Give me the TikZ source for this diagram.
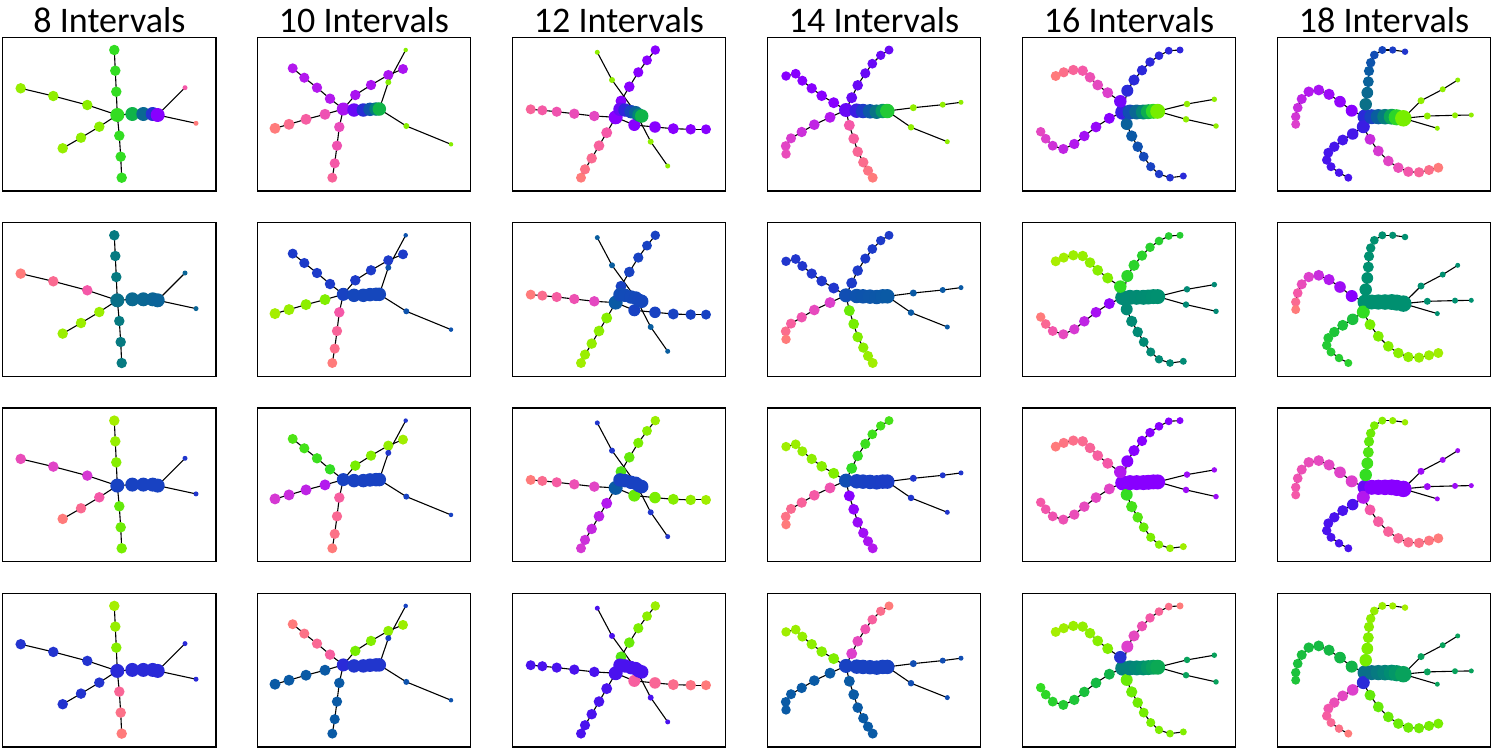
\documentclass[tikz,border=0pt]{standalone}
\usepackage{fontspec}
\setmainfont{Carlito}
\definecolor{P0}{HTML}{AAEE00}
\definecolor{P1}{HTML}{77EE00}
\definecolor{P2}{HTML}{33DD22}
\definecolor{P3}{HTML}{10B448}
\definecolor{P4}{HTML}{009070}
\definecolor{P5}{HTML}{0A7088}
\definecolor{P6}{HTML}{0A5AA5}
\definecolor{P7}{HTML}{1842C2}
\definecolor{P8}{HTML}{2A2AD8}
\definecolor{P9}{HTML}{4A12EE}
\definecolor{P10}{HTML}{8800FF}
\definecolor{P11}{HTML}{B318EE}
\definecolor{P12}{HTML}{DD40CC}
\definecolor{P13}{HTML}{F558A8}
\definecolor{P14}{HTML}{FF7B7B}
\tikzset{
  gdot/.style={circle,inner sep=0pt,outer sep=0pt,draw=none},
  link/.style={draw=black,line width=1.1pt},
  pframe/.style={draw=black,line width=1.3pt},
  ttl/.style={font=\fontsize{36}{40}\selectfont,anchor=base,inner sep=0pt}
}
\newif\ifnodepass
\newcommand\setcol[1]{%
  \pgfmathtruncatemacro\rsCi{min(floor(#1),13)}%
  \pgfmathtruncatemacro\rsCj{\rsCi+1}%
  \pgfmathtruncatemacro\rsCf{round(100*(1-(#1-\rsCi)))}%
  \colorlet{cur}{P\rsCi!\rsCf!P\rsCj}}
\newcommand\cnode[5]{%
  \ifnodepass\setcol{#2}\node[gdot,fill=cur,minimum size=#3pt] (#1) at (#4,#5) {};%
  \else\coordinate (#1) at (#4,#5);\fi}
\newcommand\branch[7]{%
  \foreach \rsP [count=\rsK] in #7 {\xdef\rsN{\rsK}}%
  \foreach \rsX/\rsY [count=\rsK] in #7 {%
    \ifnodepass
      \pgfmathsetmacro\rsFr{(\rsK-1)/max(\rsN-1,1)}%
      \pgfmathsetmacro\rsT{#3+(#4-#3)*\rsFr}%
      \pgfmathsetmacro\rsD{#5+(#6-#5)*\rsFr}%
      \setcol{\rsT}%
      \node[gdot,fill=cur,minimum size=\rsD pt] (#1-\rsK) at (\rsX,\rsY) {};%
    \else
      \coordinate (#1-\rsK) at (\rsX,\rsY);%
      \pgfmathtruncatemacro\rsKp{\rsK-1}%
      \ifnum\rsKp=0 \def\rsPrev{#2}\else\edef\rsPrev{#1-\rsKp}\fi
      \draw[link] (\rsPrev) -- (#1-\rsK);%
    \fi
  }}
\newcommand\twopass[1]{\nodepassfalse #1\nodepasstrue #1}
% column 1
\def\ZaU{116.3/91.7,115.3/70.7,114.3/50}
\def\ZaD{119.3/135.7,120.7/156.7,121.7/177.7}
\def\ZaL{87.3/105,53.3/96,20.7/88.3}
\def\ZaM{99.3/126.7,81/137.7,62.7/148.3}
\def\ZaS{132.3/114,143.3/114,152.7/114,157.7/115}
\def\ZaR{185/87.7}
\def\ZaQ{196/123.3}
% column 2
\def\ZbA{330/98.7,317/87.7,304.3/77.7,292.7/68.3}
\def\ZbB{355.3/95,371/85,388.3/75,403/69}
\def\ZbL{325/114.3,306/119.3,289/124.3,275/128.3}
\def\ZbD{339.3/127,337/145.7,334.7/163.3,332.3/177.7}
\def\ZbS{354/110,363.3/110,370/109.3,376/109,379.3/109}
\def\ZbG{388.3/82.3,405.7/50}
\def\ZbH{406.3/126,451/144.3}
% column 3
\def\ZcS{620/109.3,625/110,631/111.7,635.7/112.7,639/115,641.7/116}
\def\ZcW{594.3/116,574.3/113.7,556.7/111.7,542.3/110.3,530.7/109.3}
\def\ZcL{606.7/132.7,599/145.7,591.7/158.3,585/169.3,581/177.7}
\def\ZcU{621/101,629.3/86.7,638.3/72.3,647/60.3,655.3/50}
\def\ZcR{634.3/125,655/127,673.3/128.7,690.7/129.3,706/129.3}
\def\ZcG{612/80,597.3/52.3}
\def\ZcH{650.7/141.7,667.7/166}
% column 4
\def\ZdA{833.7/102.7,821.7/95.7,811.7/88.3,802.3/80.7,795.7/73.7,786/76}
\def\ZdB{851.7/97.7,857.7/85.3,865.3/73.3,872.3/63.7,880.7/55.3,889/50}
\def\ZdL{830/117.3,814.3/124.7,801.7/132,791/138.3,785.7/146,786/154}
\def\ZdD{849.3/125.3,853.7/138.7,857.7/151.7,863.3/162.3,868/170.7,872.7/177.7}
\def\ZdS{856.7/110.7,863/111,870/111.3,876.7/111.7,882.7/111,887.3/111}
\def\ZdG{913.3/107.7,942.7/104.7,961/102.3}
\def\ZdH{911/127.3,947.3/141.7}
% column 5
\def\ZeN{1120.3/101.3}
\def\ZeA{1107.7/92.7,1097.7/85,1090/77.3,1082.7/70.7,1073.3/70,1063.7/72.3,1055.7/76}
\def\ZeL{1109.3/118.3,1096/127,1084.3/136,1074.3/144,1063.3/149,1052.7/145.7,1045.7/138.7,1040.7/131.7}
\def\ZeB{1127.3/90.7,1134/80,1142/70.3,1150/62,1159/55.7,1168.7/50.7,1180/50}
\def\ZeR{1126.7/124,1131.7/136,1137.7/146.7,1143.7/156.7,1150.7/166.7,1159/174,1170/177.7,1183.3/176}
\def\ZeS{1130/112,1136.7/112,1143.3/112,1148.3/111.7,1153.3/111.3,1157.7/111.3}
\def\ZeG{1187/104,1214.3/99.3}
\def\ZeH{1186/119.3,1216/126}
% column 6
\def\ZfN{1363.3/126.7}
\def\ZfU{1365.7/104.3,1367.3/92.7,1368.3/81.7,1369/71,1370.7/62.7,1374.3/55,1382.3/50,1392.7/50,1405/51.7}
\def\ZfA{1351.7/110.7,1340/101.7,1329/94.3,1318.7/90,1308.7/91.7,1301.7/99,1297.7/107.7,1295.7/116.7,1295.7/124.3}
\def\ZfL{1352.7/134,1342.7/140,1334.3/146.7,1328.3/152.7,1326.7/160,1331/166.7,1339/172.7,1348.3/177.7}
\def\ZfR{1370/139.3,1378.3/151,1388.3/161,1398.3/167.7,1408.3/171.7,1419/172.3,1429/170,1438.3/167.7}
\def\ZfS{1371.7/116.7,1378.3/116.7,1385/116.7,1391.7/116.7,1396.7/117.3,1403.3/118.3}
\def\ZfG{1421/100.7,1442.7/89.3,1457.7/80}
\def\ZfH{1427.3/116,1455/115.3,1471.3/115}
\def\ZfK{1437.3/128.3}
\begin{document}
\begin{tikzpicture}[x=1pt,y=-1pt]
\useasboundingbox (0,0) rectangle (1493,750);
\fill[white] (0,0) rectangle (1493,750);
% titles
\node[ttl] (t8) at (109.4,32) {8 Intervals};
\node[ttl] (t10) at (364,32) {10 Intervals};
\node[ttl] (t12) at (619,32) {12 Intervals};
\node[ttl] (t14) at (874,32) {14 Intervals};
\node[ttl] (t16) at (1129,32) {16 Intervals};
\node[ttl] (t18) at (1384,32) {18 Intervals};
% frames
\foreach \fx in {2.7,257.3,512.3,767.3,1022.3,1277.3}{
  \foreach \fy in {37.3,222.6,407.9,593.2}{
    \draw[pframe] (\fx,\fy) rectangle ++(213.4,153.7);}}
% ================= column 1 =================
\twopass{%
\cnode{a1C}{2}{14}{117.3}{115}
\branch{a1U}{a1C}{2}{2}{10.5}{10.5}{\ZaU}
\branch{a1D}{a1C}{2}{2}{10.5}{10.5}{\ZaD}
\branch{a1L}{a1C}{0.6}{0.4}{10.5}{10.5}{\ZaL}
\branch{a1M}{a1C}{0.6}{0.4}{10.5}{10.5}{\ZaM}
\branch{a1S}{a1C}{3}{10}{14}{14}{\ZaS}
\branch{a1R}{a1S-4}{13}{13}{5}{5}{\ZaR}
\branch{a1Q}{a1S-4}{14}{14}{5}{5}{\ZaQ}}
\begin{scope}[shift={(0,185.3)}]
\twopass{%
\cnode{a2C}{5}{14}{117.3}{115}
\branch{a2U}{a2C}{4.7}{4.7}{10.5}{10.5}{\ZaU}
\branch{a2D}{a2C}{4.7}{4.7}{10.5}{10.5}{\ZaD}
\branch{a2L}{a2C}{13}{14}{10.5}{10.5}{\ZaL}
\branch{a2M}{a2C}{0.3}{0.3}{10.5}{10.5}{\ZaM}
\branch{a2S}{a2C}{5.3}{5.6}{14}{14}{\ZaS}
\branch{a2R}{a2S-4}{5.5}{5.5}{5}{5}{\ZaR}
\branch{a2Q}{a2S-4}{5.5}{5.5}{5}{5}{\ZaQ}}
\end{scope}
\begin{scope}[shift={(0,370.6)}]
\twopass{%
\cnode{a3C}{7}{14}{117.3}{115}
\branch{a3U}{a3C}{0.7}{0.1}{10.5}{10.5}{\ZaU}
\branch{a3D}{a3C}{1.3}{1}{10.5}{10.5}{\ZaD}
\branch{a3L}{a3C}{11.8}{12.5}{10.5}{10.5}{\ZaL}
\branch{a3M}{a3C}{13}{14}{10.5}{10.5}{\ZaM}
\branch{a3S}{a3C}{7}{7}{14}{14}{\ZaS}
\branch{a3R}{a3S-4}{7.5}{7.5}{5}{5}{\ZaR}
\branch{a3Q}{a3S-4}{7.5}{7.5}{5}{5}{\ZaQ}}
\end{scope}
\begin{scope}[shift={(0,555.9)}]
\twopass{%
\cnode{a4C}{8}{14}{117.3}{115}
\branch{a4U}{a4C}{0.7}{0.1}{10.5}{10.5}{\ZaU}
\branch{a4D}{a4C}{13.4}{14}{10.5}{10.5}{\ZaD}
\branch{a4L}{a4C}{7.6}{7.6}{10.5}{10.5}{\ZaL}
\branch{a4M}{a4C}{7.6}{7.6}{10.5}{10.5}{\ZaM}
\branch{a4S}{a4C}{8}{8}{14}{14}{\ZaS}
\branch{a4R}{a4S-4}{8}{8}{5}{5}{\ZaR}
\branch{a4Q}{a4S-4}{8}{8}{5}{5}{\ZaQ}}
\end{scope}
% ================= column 2 =================
\twopass{%
\cnode{b1C}{10.8}{13}{343.3}{109}
\branch{b1A}{b1C}{11}{11}{10.5}{10}{\ZbA}
\branch{b1B}{b1C}{10.8}{10.8}{10.5}{10}{\ZbB}
\branch{b1L}{b1C}{12.7}{14}{11}{11}{\ZbL}
\branch{b1D}{b1C}{12.5}{13.3}{10.5}{10}{\ZbD}
\branch{b1S}{b1C}{9.5}{3}{13.5}{13.5}{\ZbS}
\branch{b1G}{b1S-5}{0.7}{0.7}{6}{4.5}{\ZbG}
\branch{b1H}{b1S-5}{0.7}{0.7}{6}{4.5}{\ZbH}}
\begin{scope}[shift={(0,185.3)}]
\twopass{%
\cnode{b2C}{7}{13}{343.3}{109}
\branch{b2A}{b2C}{7.3}{7.3}{10.5}{10}{\ZbA}
\branch{b2B}{b2C}{7.3}{7.3}{10.5}{10}{\ZbB}
\branch{b2L}{b2C}{0.8}{0.1}{11}{11}{\ZbL}
\branch{b2D}{b2C}{13}{14}{10.5}{10}{\ZbD}
\branch{b2S}{b2C}{6.8}{6.8}{13.5}{13.5}{\ZbS}
\branch{b2G}{b2S-5}{6.3}{6.3}{6}{4.5}{\ZbG}
\branch{b2H}{b2S-5}{6.3}{6.3}{6}{4.5}{\ZbH}}
\end{scope}
\begin{scope}[shift={(0,370.6)}]
\twopass{%
\cnode{b3C}{7}{13}{343.3}{109}
\branch{b3A}{b3C}{2}{1.6}{10.5}{10}{\ZbA}
\branch{b3B}{b3C}{1}{0.2}{10.5}{10}{\ZbB}
\branch{b3L}{b3C}{11}{11.8}{11}{11}{\ZbL}
\branch{b3D}{b3C}{13.2}{14}{10.5}{10}{\ZbD}
\branch{b3S}{b3C}{7}{7}{13.5}{13.5}{\ZbS}
\branch{b3G}{b3S-5}{7.5}{7.5}{6}{4.5}{\ZbG}
\branch{b3H}{b3S-5}{7}{7}{6}{4.5}{\ZbH}}
\end{scope}
\begin{scope}[shift={(0,555.9)}]
\twopass{%
\cnode{b4C}{8}{13}{343.3}{109}
\branch{b4A}{b4C}{13.2}{14}{10.5}{10}{\ZbA}
\branch{b4B}{b4C}{1}{0.3}{10.5}{10}{\ZbB}
\branch{b4L}{b4C}{6}{6}{11}{11}{\ZbL}
\branch{b4D}{b4C}{6}{6}{10.5}{10}{\ZbD}
\branch{b4S}{b4C}{7.5}{7.5}{13.5}{13.5}{\ZbS}
\branch{b4G}{b4S-5}{7}{7}{6}{4.5}{\ZbG}
\branch{b4H}{b4S-5}{6.3}{6.3}{6}{4.5}{\ZbH}}
\end{scope}
% ================= column 3 =================
\twopass{%
\cnode{c1C}{10}{14}{615.7}{117.3}
\branch{c1W}{c1C}{12.3}{13.3}{10.5}{10}{\ZcW}
\branch{c1L}{c1C}{13}{14}{11}{10}{\ZcL}
\branch{c1U}{c1C}{10}{10}{11}{9.5}{\ZcU}
\branch{c1R}{c1C}{10}{10}{12}{10}{\ZcR}
\branch{c1S}{c1C}{9.5}{3}{13.5}{13.5}{\ZcS}
\branch{c1G}{c1S-4}{0.5}{0.5}{6}{5}{\ZcG}
\branch{c1H}{c1S-4}{0.5}{0.5}{6}{5}{\ZcH}}
\begin{scope}[shift={(0,185.3)}]
\twopass{%
\cnode{c2C}{6}{14}{615.7}{117.3}
\branch{c2W}{c2C}{12.3}{14}{10.5}{10}{\ZcW}
\branch{c2L}{c2C}{0.7}{0.2}{11}{10}{\ZcL}
\branch{c2U}{c2C}{7}{7}{11}{9.5}{\ZcU}
\branch{c2R}{c2C}{7}{7}{12}{10}{\ZcR}
\branch{c2S}{c2C}{6.6}{6.8}{13.5}{13.5}{\ZcS}
\branch{c2G}{c2S-4}{5.8}{5.8}{6}{5}{\ZcG}
\branch{c2H}{c2S-4}{5.8}{5.8}{6}{5}{\ZcH}}
\end{scope}
\begin{scope}[shift={(0,370.6)}]
\twopass{%
\cnode{c3C}{6}{14}{615.7}{117.3}
\branch{c3W}{c3C}{12.2}{14}{10.5}{10}{\ZcW}
\branch{c3L}{c3C}{11}{11.8}{11}{10}{\ZcL}
\branch{c3U}{c3C}{1.6}{0.3}{11}{9.5}{\ZcU}
\branch{c3R}{c3C}{1.2}{0.2}{12}{10}{\ZcR}
\branch{c3S}{c3C}{7}{7}{13.5}{13.5}{\ZcS}
\branch{c3G}{c3S-4}{7.5}{7.5}{6}{5}{\ZcG}
\branch{c3H}{c3S-4}{7.5}{7.5}{6}{5}{\ZcH}}
\end{scope}
\begin{scope}[shift={(0,555.9)}]
\twopass{%
\cnode{c4C}{9}{14}{615.7}{117.3}
\branch{c4W}{c4C}{9}{9}{10.5}{10}{\ZcW}
\branch{c4L}{c4C}{9}{9}{11}{10}{\ZcL}
\branch{c4U}{c4C}{1.5}{0.3}{11}{9.5}{\ZcU}
\branch{c4R}{c4C}{13.2}{14}{12}{10}{\ZcR}
\branch{c4S}{c4C}{9}{9}{13.5}{13.5}{\ZcS}
\branch{c4G}{c4S-4}{9}{9}{6}{5}{\ZcG}
\branch{c4H}{c4S-4}{9}{9}{6}{5}{\ZcH}}
\end{scope}
% ================= column 4 =================
\twopass{%
\cnode{d1C}{9.5}{14}{846}{110}
\branch{d1A}{d1C}{10}{10}{11}{9.5}{\ZdA}
\branch{d1B}{d1C}{9.5}{9.5}{11}{9}{\ZdB}
\branch{d1L}{d1C}{11}{12.5}{11}{9.5}{\ZdL}
\branch{d1D}{d1C}{13}{14}{11}{10}{\ZdD}
\branch{d1S}{d1C}{8.5}{2.5}{14.5}{14.5}{\ZdS}
\branch{d1G}{d1S-6}{0.5}{0.5}{7}{5}{\ZdG}
\branch{d1H}{d1S-6}{0.5}{0.5}{6.5}{5}{\ZdH}}
\begin{scope}[shift={(0,185.3)}]
\twopass{%
\cnode{d2C}{6.5}{14}{846}{110}
\branch{d2A}{d2C}{7.5}{7.5}{11}{9.5}{\ZdA}
\branch{d2B}{d2C}{7.3}{7.3}{11}{9}{\ZdB}
\branch{d2L}{d2C}{12}{14}{11}{9.5}{\ZdL}
\branch{d2D}{d2C}{1.2}{0.2}{11}{10}{\ZdD}
\branch{d2S}{d2C}{6.3}{6}{14.5}{14.5}{\ZdS}
\branch{d2G}{d2S-6}{6}{6}{7}{5}{\ZdG}
\branch{d2H}{d2S-6}{6}{6}{6.5}{5}{\ZdH}}
\end{scope}
\begin{scope}[shift={(0,370.6)}]
\twopass{%
\cnode{d3C}{6.5}{14}{846}{110}
\branch{d3A}{d3C}{0.8}{0.2}{11}{9.5}{\ZdA}
\branch{d3B}{d3C}{2}{1.7}{11}{9}{\ZdB}
\branch{d3L}{d3C}{12.8}{14}{11}{9.5}{\ZdL}
\branch{d3D}{d3C}{10}{11}{11}{10}{\ZdD}
\branch{d3S}{d3C}{7}{7.2}{14.5}{14.5}{\ZdS}
\branch{d3G}{d3S-6}{7.5}{7.5}{7}{5}{\ZdG}
\branch{d3H}{d3S-6}{7.5}{7.5}{6.5}{5}{\ZdH}}
\end{scope}
\begin{scope}[shift={(0,555.9)}]
\twopass{%
\cnode{d4C}{7}{14}{846}{110}
\branch{d4A}{d4C}{0.8}{0.2}{11}{9.5}{\ZdA}
\branch{d4B}{d4C}{12}{14}{11}{9}{\ZdB}
\branch{d4L}{d4C}{6}{6}{11}{9.5}{\ZdL}
\branch{d4D}{d4C}{6}{6}{11}{10}{\ZdD}
\branch{d4S}{d4C}{7}{7}{14.5}{14.5}{\ZdS}
\branch{d4G}{d4S-6}{6.5}{6.5}{7}{5}{\ZdG}
\branch{d4H}{d4S-6}{6.5}{6.5}{6.5}{5}{\ZdH}}
\end{scope}
% ================= column 5 =================
\twopass{%
\cnode{e1C}{8.5}{15}{1122.7}{112.3}
\branch{e1N}{e1C}{9.7}{9.7}{12.5}{12.5}{\ZeN}
\branch{e1A}{e1N-1}{12}{14}{11}{10}{\ZeA}
\branch{e1L}{e1C}{10}{12.3}{11}{9.5}{\ZeL}
\branch{e1B}{e1C}{8}{8.2}{12}{7}{\ZeB}
\branch{e1R}{e1C}{5.7}{8}{12}{7}{\ZeR}
\branch{e1S}{e1C}{6.5}{1}{15}{15}{\ZeS}
\branch{e1G}{e1S-6}{0.5}{0.5}{6.5}{5.5}{\ZeG}
\branch{e1H}{e1S-6}{0.5}{0.5}{6.5}{5.5}{\ZeH}}
\begin{scope}[shift={(0,185.3)}]
\twopass{%
\cnode{e2C}{4.2}{15}{1122.7}{112.3}
\branch{e2N}{e2C}{2}{2}{12.5}{12.5}{\ZeN}
\branch{e2A}{e2N-1}{0.8}{0}{11}{10}{\ZeA}
\branch{e2L}{e2C}{10.2}{14}{11}{9.5}{\ZeL}
\branch{e2B}{e2C}{2.2}{2.4}{12}{7}{\ZeB}
\branch{e2R}{e2C}{4.2}{4.2}{12}{7}{\ZeR}
\branch{e2S}{e2C}{4.2}{4}{15}{15}{\ZeS}
\branch{e2G}{e2S-6}{4.2}{4.2}{6.5}{5.5}{\ZeG}
\branch{e2H}{e2S-6}{4.2}{4.2}{6.5}{5.5}{\ZeH}}
\end{scope}
\begin{scope}[shift={(0,370.6)}]
\twopass{%
\cnode{e3C}{10}{15}{1122.7}{112.3}
\branch{e3N}{e3C}{11}{11}{12.5}{12.5}{\ZeN}
\branch{e3A}{e3N-1}{13}{14}{11}{10}{\ZeA}
\branch{e3L}{e3C}{12.2}{13}{11}{9.5}{\ZeL}
\branch{e3B}{e3C}{10}{10}{12}{7}{\ZeB}
\branch{e3R}{e3C}{2}{0.2}{12}{7}{\ZeR}
\branch{e3S}{e3C}{10}{10}{15}{15}{\ZeS}
\branch{e3G}{e3S-6}{10.5}{10.5}{6.5}{5.5}{\ZeG}
\branch{e3H}{e3S-6}{10.5}{10.5}{6.5}{5.5}{\ZeH}}
\end{scope}
\begin{scope}[shift={(0,555.9)}]
\twopass{%
\cnode{e4C}{4.5}{15}{1122.7}{112.3}
\branch{e4N}{e4C}{7.7}{7.7}{12.5}{12.5}{\ZeN}
\branch{e4A}{e4N-1}{0.8}{0.1}{11}{10}{\ZeA}
\branch{e4L}{e4C}{3}{2}{11}{9.5}{\ZeL}
\branch{e4B}{e4C}{12}{14}{12}{7}{\ZeB}
\branch{e4R}{e4C}{1.2}{0.8}{12}{7}{\ZeR}
\branch{e4S}{e4C}{4.5}{3.3}{15}{15}{\ZeS}
\branch{e4G}{e4S-6}{3.5}{3.5}{6.5}{5.5}{\ZeG}
\branch{e4H}{e4S-6}{3.5}{3.5}{6.5}{5.5}{\ZeH}}
\end{scope}
% ================= column 6 =================
\twopass{%
\cnode{f1C}{8}{15}{1365}{116.7}
\branch{f1N}{f1C}{8.5}{8.5}{13}{13}{\ZfN}
\branch{f1U}{f1C}{5}{7.5}{12.5}{6.5}{\ZfU}
\branch{f1A}{f1C}{10}{12}{12}{9}{\ZfA}
\branch{f1L}{f1N-1}{8.8}{9}{11.5}{8}{\ZfL}
\branch{f1R}{f1N-1}{11.5}{14}{11}{10}{\ZfR}
\branch{f1S}{f1C}{7}{1}{15}{16.5}{\ZfS}
\branch{f1G}{f1S-6}{0.5}{0.5}{7}{5}{\ZfG}
\branch{f1H}{f1S-6}{0.5}{0.5}{7}{5}{\ZfH}
\branch{f1K}{f1S-6}{0.5}{0.5}{5}{5}{\ZfK}}
\begin{scope}[shift={(0,185.3)}]
\twopass{%
\cnode{f2C}{4}{15}{1365}{116.7}
\branch{f2N}{f2C}{2}{2}{13}{13}{\ZfN}
\branch{f2U}{f2C}{4}{4}{12.5}{6.5}{\ZfU}
\branch{f2A}{f2C}{10}{14}{12}{9}{\ZfA}
\branch{f2L}{f2N-1}{2.7}{2.3}{11.5}{8}{\ZfL}
\branch{f2R}{f2N-1}{1}{0.2}{11}{10}{\ZfR}
\branch{f2S}{f2C}{4}{4}{15}{16.5}{\ZfS}
\branch{f2G}{f2S-6}{4}{4}{7}{5}{\ZfG}
\branch{f2H}{f2S-6}{4}{4}{7}{5}{\ZfH}
\branch{f2K}{f2S-6}{4}{4}{5}{5}{\ZfK}}
\end{scope}
\begin{scope}[shift={(0,370.6)}]
\twopass{%
\cnode{f3C}{9.5}{15}{1365}{116.7}
\branch{f3N}{f3C}{11}{11}{13}{13}{\ZfN}
\branch{f3U}{f3C}{2}{0.3}{12.5}{6.5}{\ZfU}
\branch{f3A}{f3C}{12}{13}{12}{9}{\ZfA}
\branch{f3L}{f3N-1}{9}{9}{11.5}{8}{\ZfL}
\branch{f3R}{f3N-1}{13}{14}{11}{10}{\ZfR}
\branch{f3S}{f3C}{10}{10}{15}{16.5}{\ZfS}
\branch{f3G}{f3S-6}{10.5}{10.5}{7}{5}{\ZfG}
\branch{f3H}{f3S-6}{10.5}{10.5}{7}{5}{\ZfH}
\branch{f3K}{f3S-6}{10.5}{10.5}{5}{5}{\ZfK}}
\end{scope}
\begin{scope}[shift={(0,555.9)}]
\twopass{%
\cnode{f4C}{5}{15}{1365}{116.7}
\branch{f4N}{f4C}{8}{8}{13}{13}{\ZfN}
\branch{f4U}{f4C}{1}{0.1}{12.5}{6.5}{\ZfU}
\branch{f4A}{f4C}{3}{2.6}{12}{9}{\ZfA}
\branch{f4L}{f4N-1}{12}{14}{11.5}{8}{\ZfL}
\branch{f4R}{f4N-1}{1.3}{1}{11}{10}{\ZfR}
\branch{f4S}{f4C}{5}{3.5}{15}{16.5}{\ZfS}
\branch{f4G}{f4S-6}{3.5}{3.5}{7}{5}{\ZfG}
\branch{f4H}{f4S-6}{3.5}{3.5}{7}{5}{\ZfH}
\branch{f4K}{f4S-6}{3.5}{3.5}{5}{5}{\ZfK}}
\end{scope}
\end{tikzpicture}
\end{document}
